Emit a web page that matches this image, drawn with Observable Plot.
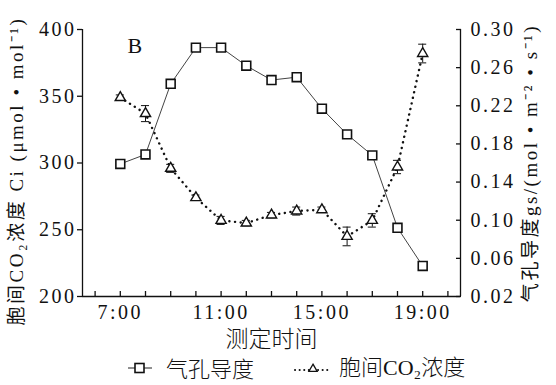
<!DOCTYPE html>
<html><head><meta charset="utf-8">
<script src="https://cdn.jsdelivr.net/npm/d3@7"></script>
<script src="https://cdn.jsdelivr.net/npm/@observablehq/plot@0.6"></script>
<style>
body{margin:0;background:#fff;width:556px;height:385px;overflow:hidden;font-family:"Liberation Serif","Noto Sans CJK SC",serif;}
#chart svg{display:block}
#chart g[aria-label="x-axis tick label"] text,
#chart g[aria-label="y-axis tick label"] text{font-family:"Liberation Serif",serif;letter-spacing:2.5px}
#legend{position:relative;width:556px;height:29px;font-size:22px;color:#111;line-height:1.15}
#legend .it{position:absolute;top:-1px;display:flex;align-items:center;white-space:nowrap}
#legend svg{display:block}
</style></head>
<body>
<div id="chart"></div>
<div id="legend"></div>
<script>
// ---- data ----
const hours = [7, 8, 9, 10, 11, 12, 13, 14, 15, 16, 17, 18, 19];
const gsValues = [0.159, 0.169, 0.243, 0.281, 0.281, 0.262, 0.247, 0.250, 0.217, 0.190, 0.168, 0.092, 0.052];
const ciValues = [349, 337, 296, 274, 257, 255, 261, 264, 265, 245, 257, 297, 382];
const ciErrors = [2, 6, 3, 2, 3, 2, 2, 3, 2, 7, 5, 5, 7];
const hourTicks = [6, 7, 8, 9, 10, 11, 12, 13, 14, 15, 16, 17, 18, 19, 20];
const hourLabels = [7, 11, 15, 19];
const ciTicks = [200, 250, 300, 350, 400];
const gsTicks = [0.02, 0.06, 0.10, 0.14, 0.18, 0.22, 0.26, 0.30];
const ciDomain = [200, 400];
const gsDomain = [0.02, 0.30];
const xDomain = [5.5, 20.5];
const seriesNames = ["气孔导度", "胞间CO₂浓度"];
const xTitle = "测定时间";
const yLeftTitle = "胞间CO₂浓度 Ci (μmol • mol⁻¹)";
const yRightTitle = "气孔导度gs/(mol • m⁻² • s⁻¹)";
const panelLabel = "B";

// map gs onto the Ci scale (dual axis)
const toCi = g => ciDomain[0] + (g - gsDomain[0]) / (gsDomain[1] - gsDomain[0]) * (ciDomain[1] - ciDomain[0]);
const fromCi = c => gsDomain[0] + (c - ciDomain[0]) / (ciDomain[1] - ciDomain[0]) * (gsDomain[1] - gsDomain[0]);

const gsData = hours.map((h, i) => ({h, v: toCi(gsValues[i])}));
const ciData = hours.map((h, i) => ({h, v: ciValues[i], lo: ciValues[i] - ciErrors[i], hi: ciValues[i] + ciErrors[i]}));

const cjk = "'Noto Sans CJK SC', sans-serif";
const mixed = "'Liberation Serif','Noto Sans CJK SC',serif";
const capW = 0.16;

const plot = Plot.plot({
  width: 556, height: 356,
  marginLeft: 82, marginRight: 96, marginTop: 29, marginBottom: 60,
  style: {fontFamily: mixed, fontSize: "20px", color: "#111", background: "#fff"},
  x: {domain: xDomain},
  y: {domain: ciDomain},
  marks: [
    Plot.ruleX([xDomain[0], xDomain[1]], {stroke: "#111", strokeWidth: 1.3}),
    Plot.ruleY([ciDomain[0]], {stroke: "#111", strokeWidth: 1.3}),
    Plot.axisY({ticks: ciTicks, tickSize: 5, tickPadding: 1, label: null, strokeWidth: 1.3}),
    Plot.axisY({ticks: gsTicks.map(toCi), anchor: "right", tickSize: -5, tickPadding: 15, label: null, tickFormat: d => fromCi(d).toFixed(2), strokeWidth: 1.3}),
    Plot.axisX({ticks: hourTicks, tickSize: -5, tickPadding: 13, label: null, tickFormat: d => hourLabels.includes(d) ? d + ":00" : "", strokeWidth: 1.3}),
    Plot.text([yLeftTitle], {frameAnchor: "left", text: d => d, textAnchor: "middle", rotate: -90, dx: -66, dy: 8, fontSize: 19, fontFamily: mixed}),
    Plot.text([yRightTitle], {frameAnchor: "right", text: d => d, textAnchor: "middle", rotate: -90, dx: 70, dy: 0, fontSize: 19, fontFamily: mixed}),
    Plot.text([xTitle], {frameAnchor: "bottom", text: d => d, dy: 43, lineAnchor: "middle", fontSize: 23, fontFamily: cjk, fontWeight: 300}),
    Plot.text([panelLabel], {frameAnchor: "top-left", text: d => d, dx: 45, dy: 8, textAnchor: "start", fontSize: 22, fontFamily: mixed}),
    Plot.line(gsData, {x: "h", y: "v", stroke: "#444", strokeWidth: 1}),
    Plot.line(ciData, {x: "h", y: "v", stroke: "#111", strokeWidth: 2.4, strokeDasharray: "0.1,5.6", strokeLinecap: "round"}),
    Plot.ruleX(ciData, {x: "h", y1: "lo", y2: "hi", stroke: "#111", strokeWidth: 1}),
    Plot.ruleY(ciData, {y: "lo", x1: d => d.h - capW, x2: d => d.h + capW, stroke: "#111", strokeWidth: 1}),
    Plot.ruleY(ciData, {y: "hi", x1: d => d.h - capW, x2: d => d.h + capW, stroke: "#111", strokeWidth: 1}),
    Plot.dot(gsData, {x: "h", y: "v", symbol: "square", r: 5, fill: "#fff", stroke: "#111", strokeWidth: 1.6}),
    Plot.dot(ciData, {x: "h", y: "v", symbol: "triangle", r: 3.8, fill: "#fff", stroke: "#111", strokeWidth: 1.4})
  ]
});
document.getElementById("chart").appendChild(plot);
// widen the rotated axis titles like the reference's half-width Latin glyphs
d3.select(plot).selectAll("text")
  .filter(function () { return this.textContent === yLeftTitle || this.textContent === yRightTitle; })
  .style("letter-spacing", "2.5px");

// legend
const legend = d3.select("#legend");
const it1 = legend.append("div").attr("class", "it").style("left", "126px");
const s1 = it1.append("svg").attr("width", 28).attr("height", 20);
s1.append("line").attr("x1", 2).attr("x2", 26).attr("y1", 10).attr("y2", 10).attr("stroke", "#444").attr("stroke-width", 1.2);
s1.append("rect").attr("x", 9).attr("y", 5.5).attr("width", 9).attr("height", 9).attr("fill", "#fff").attr("stroke", "#111").attr("stroke-width", 1.6);
it1.append("span").text(seriesNames[0]).style("margin-left", "12px").style("font-family", cjk).style("font-weight", 300).style("font-size", "22px");

const it2 = legend.append("div").attr("class", "it").style("left", "293px");
const s2 = it2.append("svg").attr("width", 40).attr("height", 20);
s2.append("line").attr("x1", 2).attr("x2", 38).attr("y1", 12).attr("y2", 12).attr("stroke", "#111").attr("stroke-width", 2).attr("stroke-dasharray", "0.1,4.5").attr("stroke-linecap", "round");
s2.append("path").attr("d", d3.symbol(d3.symbolTriangle, 30)()).attr("transform", "translate(20,11)").attr("fill", "#fff").attr("stroke", "#111").attr("stroke-width", 1.3);
it2.append("span").text(seriesNames[1]).style("margin-left", "6px").style("font-family", mixed).style("font-weight", 300);
</script>
</body></html>
